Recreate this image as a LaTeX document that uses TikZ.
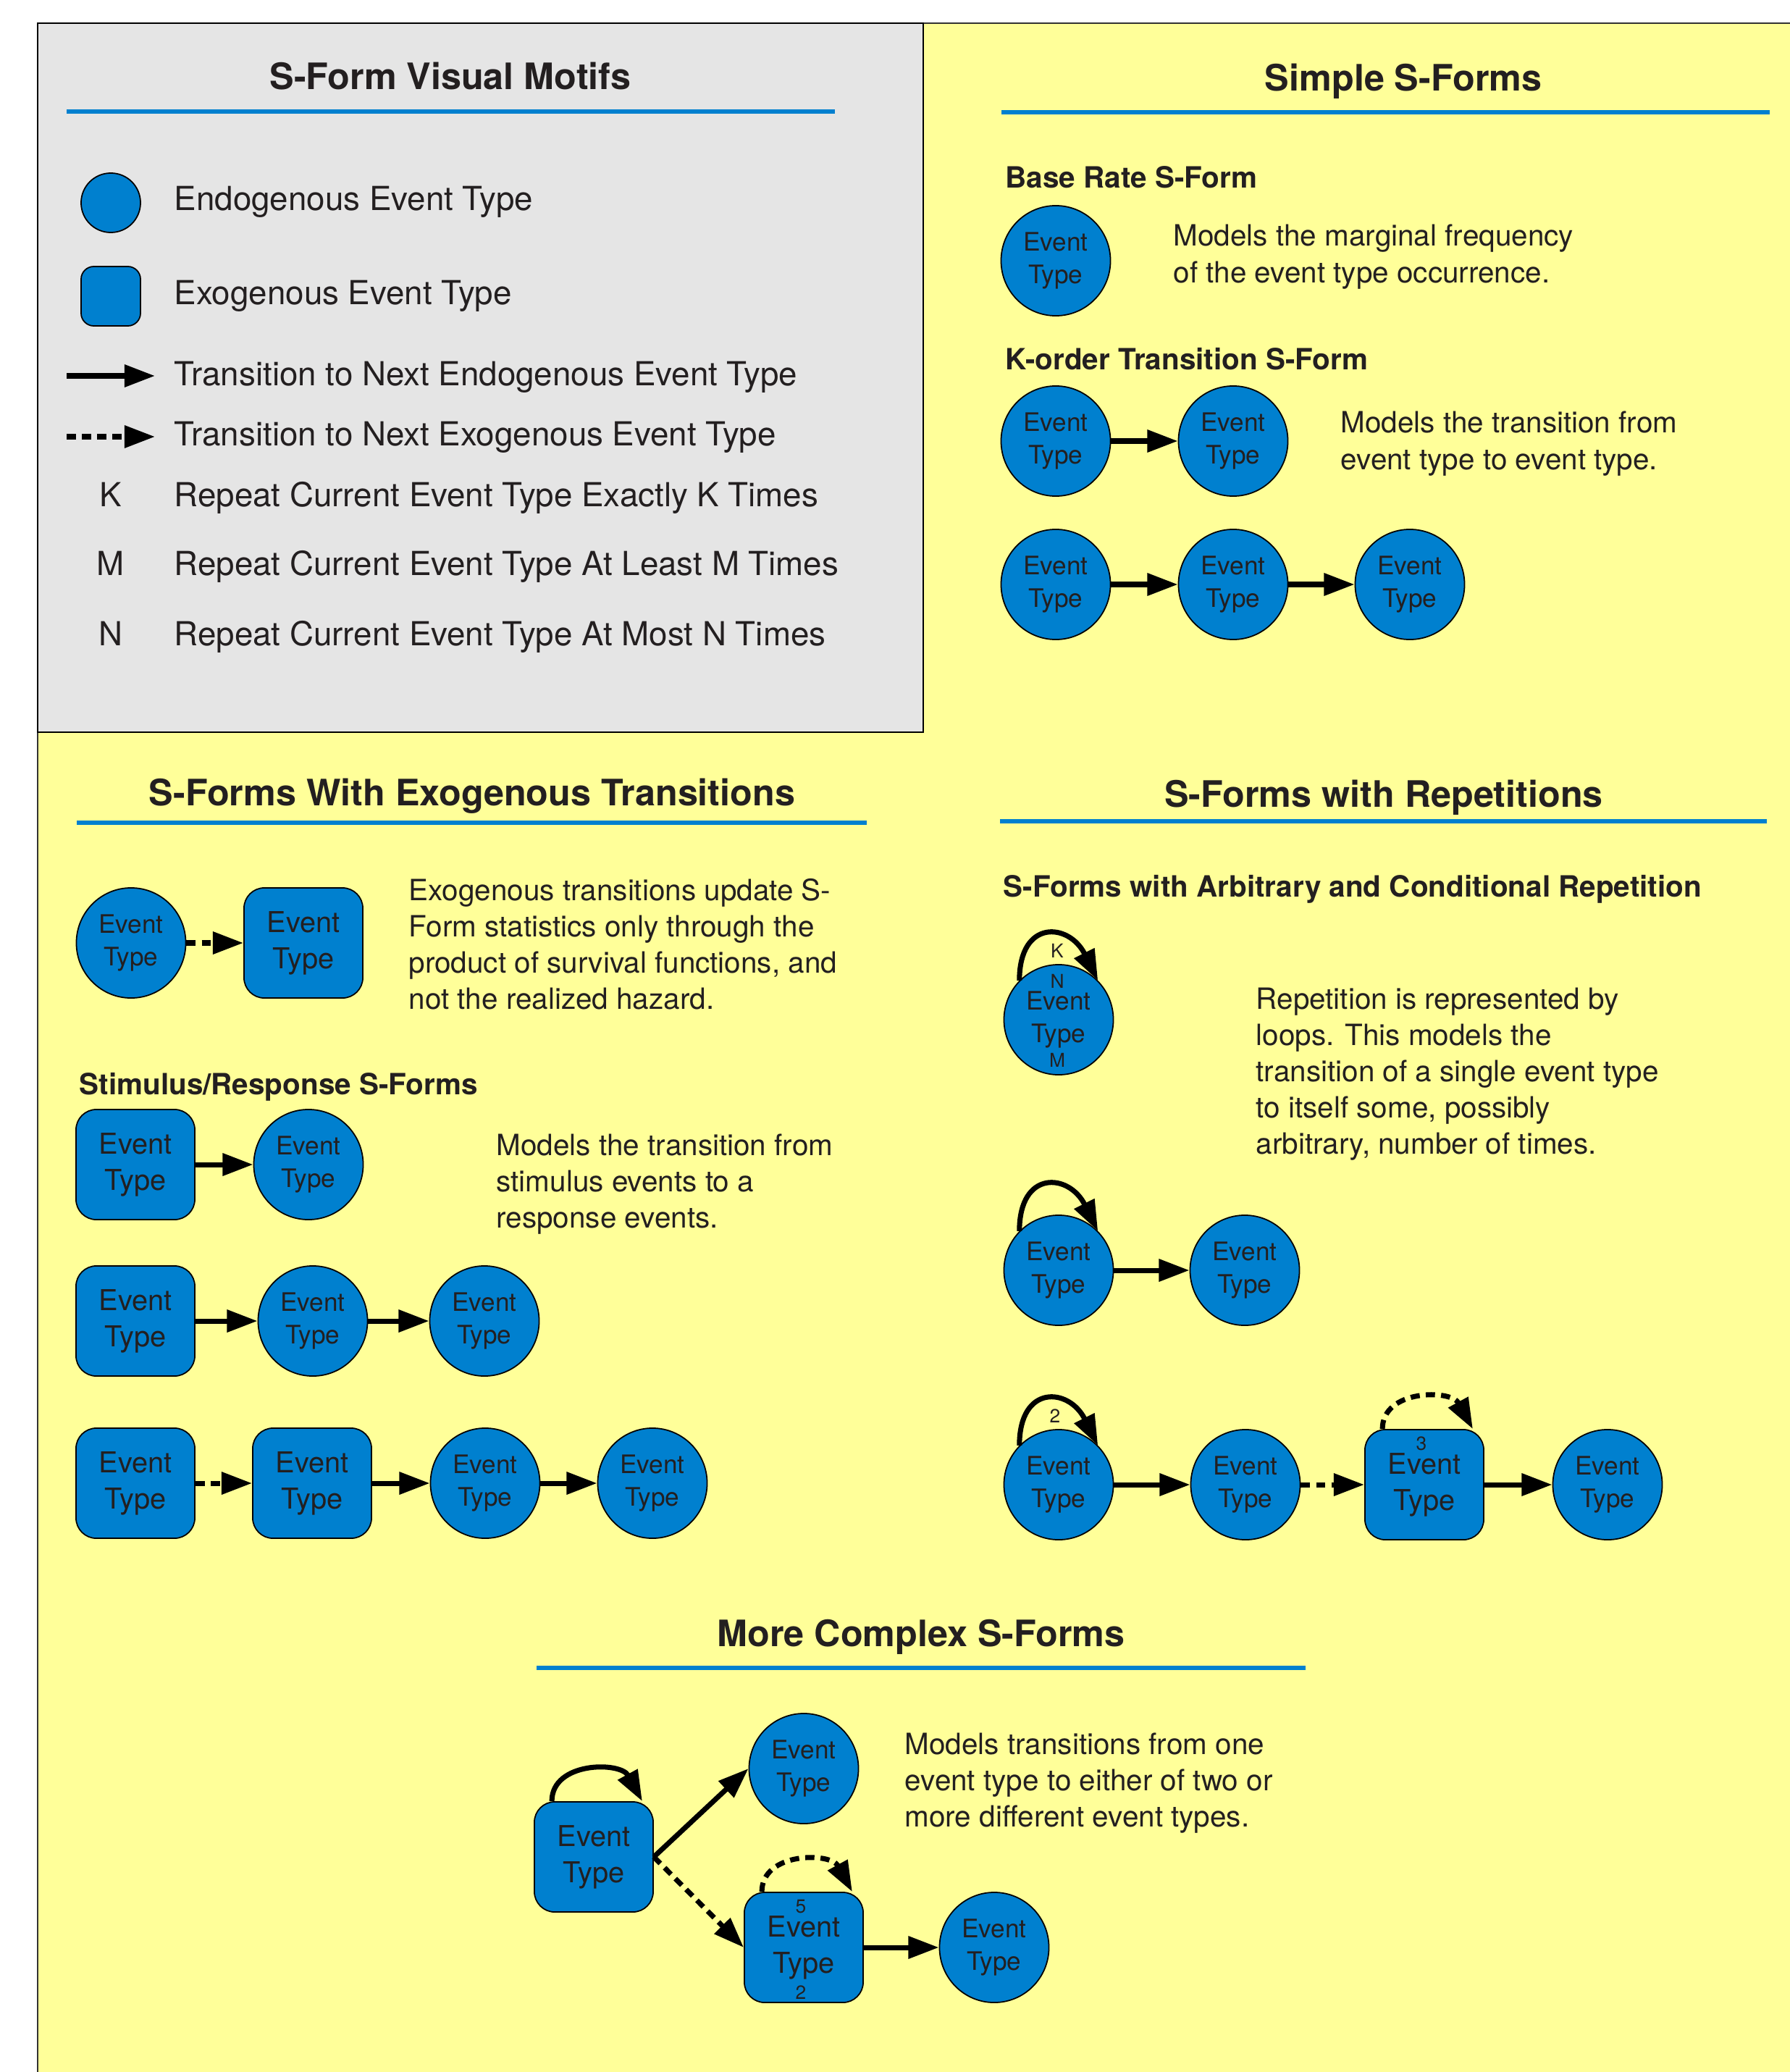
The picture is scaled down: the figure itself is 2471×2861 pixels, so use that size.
\documentclass[tikz,border=0pt]{standalone}
\usepackage{fontspec}
\setmainfont{TeX Gyre Heros}
\usepackage{xcolor}
\definecolor{sfxanh}{HTML}{0080CF}
\definecolor{sfvang}{HTML}{FFFF99}
\definecolor{sfxam}{HTML}{E5E5E5}
\definecolor{sfden}{HTML}{231F20}
\def\mycolor{sfxanh}
\def\maunen{sfvang}
\def\mauhop{sfxam}
\def\mauchu{sfden}
\usepackage{tikz}
\usetikzlibrary{shapes.geometric,arrows.meta,positioning}

\begin{document}
\begin{tikzpicture}[x=0.01cm,y=-0.01cm,text=\mauchu,font=\fontsize{11.5}{14}\selectfont,
	endo/.style={ellipse,draw=black,line width=0.5pt,fill=\mycolor,minimum width=1.51cm,minimum height=1.52cm,inner sep=0pt,align=center,font=\fontsize{10}{12.8}\selectfont},
	exo/.style={rectangle,rounded corners=8pt,draw=black,line width=0.5pt,fill=\mycolor,minimum width=1.64cm,minimum height=1.52cm,inner sep=0pt,align=center,font=\fontsize{11.3}{14.2}\selectfont},
	trans/.style={-{Triangle[length=12pt,width=8.5pt]},line width=2pt,draw=black},
	exotrans/.style={trans,dash pattern=on 3.6pt off 2.4pt},
	tieude/.style={anchor=base,inner sep=0pt,font=\fontsize{14.3}{17}\selectfont\bfseries},
	tieudephu/.style={anchor=base west,inner sep=0pt,font=\fontsize{11.5}{14}\selectfont\bfseries},
	mota/.style={anchor=base west,inner sep=0pt},
	chuhop/.style={mota,font=\fontsize{13}{15}\selectfont},
	nhan/.style={inner sep=0pt,font=\fontsize{7.5}{9}\selectfont},
	gach/.style={draw=\mycolor,line width=1.8pt}]
	\useasboundingbox (0,0) rectangle (2471,2861);
	%%%Nen vang va hop xam
	\fill[\maunen] (52,32) rectangle (2480,2870);
	\draw[black!80,line width=0.8pt] (2480,32) -- (52,32) -- (52,2870);
	\draw[fill=\mauhop,line width=0.8pt] (52,32) rectangle (1275,1011);
	
	%%%Hop chu giai
	\node[tieude] (td-motif) at (622,124) {S-Form Visual Motifs};
	\draw[gach] (92,154) -- (1153,154);
	\node[circle,draw=black,line width=0.5pt,fill=\mycolor,minimum size=0.82cm,inner sep=0pt] (leg-endo) at (153,280) {};
	\node[rectangle,rounded corners=5pt,draw=black,line width=0.5pt,fill=\mycolor,minimum size=0.82cm,inner sep=0pt] (leg-exo) at (153,409) {};
	\coordinate (leg-a1) at (92,519);
	\coordinate (leg-b1) at (214,519);
	\coordinate (leg-a2) at (92,603);
	\coordinate (leg-b2) at (214,603);
	\draw[trans] (leg-a1) -- (leg-b1);
	\draw[exotrans] (leg-a2) -- (leg-b2);
	\foreach [count=\i] \y/\k in {699/K,794/M,891/N}{%
		\node[chuhop,anchor=base] (leg-k\i) at (153,\y) {\k};
	}
	\foreach [count=\i] \y/\t in {%
		291/Endogenous Event Type,
		420/Exogenous Event Type,
		532/Transition to Next Endogenous Event Type,
		615/Transition to Next Exogenous Event Type,
		699/Repeat Current Event Type Exactly K Times,
		794/Repeat Current Event Type At Least M Times,
		891/Repeat Current Event Type At Most N Times}{%
		\node[chuhop] (leg-t\i) at (240,\y) {\t};
	}
	
	%%%Simple S-Forms
	\node[tieude] (td-simple) at (1938,126) {Simple S-Forms};
	\draw[gach] (1383,155) -- (2444,155);
	\node[tieudephu] (st-base) at (1388,260) {Base Rate S-Form};
	\node[endo] (br1) at (1458,360) {Event\\Type};
	\foreach [count=\i from 0] \dong in {Models the marginal frequency,of the event type occurrence.}{%
		\node[mota] (mt-br\i) at (1620,340+51*\i) {\dong};
	}
	\node[tieudephu] (st-korder) at (1388,510) {K-order Transition S-Form};
	\node[endo] (ko1) at (1458,609) {Event\\Type};
	\node[endo] (ko2) at (1703,609) {Event\\Type};
	\draw[trans] (ko1) -- (ko2);
	\foreach [count=\i from 0] \dong in {Models the transition from,event type to event type.}{%
		\node[mota] (mt-ko\i) at (1851,597+51*\i) {\dong};
	}
	\node[endo] (kt1) at (1458,807) {Event\\Type};
	\node[endo] (kt2) at (1703,807) {Event\\Type};
	\node[endo] (kt3) at (1947,807) {Event\\Type};
	\draw[trans] (kt1) -- (kt2);
	\draw[trans] (kt2) -- (kt3);
	
	%%%S-Forms With Exogenous Transitions
	\node[tieude] (td-exo) at (652,1112) {S-Forms With Exogenous Transitions};
	\draw[gach] (106,1136) -- (1197,1136);
	\node[endo] (ex1) at (181,1302) {Event\\Type};
	\node[exo] (ex2) at (419,1302) {Event\\Type};
	\draw[exotrans] (ex1) -- (ex2);
	\foreach [count=\i from 0] \dong in {Exogenous transitions update S-,Form statistics only through the,{product of survival functions, and},not the realized hazard.}{%
		\node[mota] (mt-ex\i) at (564,1243+50*\i) {\dong};
	}
	\node[tieudephu] (st-stim) at (109,1511) {Stimulus/Response S-Forms};
	\node[exo] (sr1) at (187,1608) {Event\\Type};
	\node[endo] (sr2) at (426,1608) {Event\\Type};
	\draw[trans] (sr1) -- (sr2);
	\foreach [count=\i from 0] \dong in {Models the transition from,stimulus events to a,response events.}{%
		\node[mota] (mt-sr\i) at (685,1595+50*\i) {\dong};
	}
	\node[exo] (sr3) at (187,1824) {Event\\Type};
	\node[endo] (sr4) at (432,1824) {Event\\Type};
	\node[endo] (sr5) at (669,1824) {Event\\Type};
	\draw[trans] (sr3) -- (sr4);
	\draw[trans] (sr4) -- (sr5);
	\node[exo] (sr6) at (187,2048) {Event\\Type};
	\node[exo] (sr7) at (431,2048) {Event\\Type};
	\node[endo] (sr8) at (670,2048) {Event\\Type};
	\node[endo] (sr9) at (901,2048) {Event\\Type};
	\draw[exotrans] (sr6) -- (sr7);
	\draw[trans] (sr7) -- (sr8);
	\draw[trans] (sr8) -- (sr9);
	
	%%%S-Forms with Repetitions
	\node[tieude] (td-rep) at (1911,1114) {S-Forms with Repetitions};
	\draw[gach] (1381,1134) -- (2440,1134);
	\node[tieudephu] (st-rep) at (1385,1238) {S-Forms with Arbitrary and Conditional Repetition};
	\node[endo] (rp1) at (1462,1408) {Event\\Type};
	\draw[trans] (rp1.135) .. controls +(0,-85) and +(-40,-80) .. (rp1.45);
	\node[nhan] (rp1-k) at (1460,1313) {K};
	\node[nhan] (rp1-n) at (1460,1355) {N};
	\node[nhan] (rp1-m) at (1460,1464) {M};
	\foreach [count=\i from 0] \dong in {Repetition is represented by,loops. This models the,transition of a single event type,{to itself some, possibly},{arbitrary, number of times.}}{%
		\node[mota] (mt-rp\i) at (1734,1393+50*\i) {\dong};
	}
	\node[endo] (rp2) at (1462,1754) {Event\\Type};
	\node[endo] (rp3) at (1719,1754) {Event\\Type};
	\draw[trans] (rp2.135) .. controls +(0,-85) and +(-40,-80) .. (rp2.45);
	\draw[trans] (rp2) -- (rp3);
	\node[endo] (rp4) at (1462,2050) {Event\\Type};
	\node[endo] (rp5) at (1720,2050) {Event\\Type};
	\node[exo] (rp6) at (1967,2050) {Event\\Type};
	\node[endo] (rp7) at (2220,2050) {Event\\Type};
	\draw[trans] (rp4.135) .. controls +(0,-85) and +(-40,-80) .. (rp4.45);
	\draw[exotrans] ([xshift=0.25cm]rp6.north west) .. controls +(0,-55) and +(-30,-55) .. ([xshift=-0.16cm]rp6.north east);
	\node[nhan] (rp4-k) at (1457,1955) {2};
	\node[nhan] (rp6-k) at (1963,1993) {3};
	\draw[trans] (rp4) -- (rp5);
	\draw[exotrans] (rp5) -- (rp6);
	\draw[trans] (rp6) -- (rp7);
	
	%%%More Complex S-Forms
	\node[tieude] (td-complex) at (1272,2273) {More Complex S-Forms};
	\draw[gach] (741,2303) -- (1803,2303);
	\node[exo] (cx1) at (820,2564) {Event\\Type};
	\node[endo] (cx2) at (1110,2442) {Event\\Type};
	\node[exo] (cx3) at (1110,2689) {Event\\Type};
	\node[endo] (cx4) at (1373,2689) {Event\\Type};
	\draw[trans] ([xshift=0.25cm]cx1.north west) .. controls +(0,-55) and +(-30,-55) .. ([xshift=-0.16cm]cx1.north east);
	\draw[exotrans] ([xshift=0.25cm]cx3.north west) .. controls +(0,-55) and +(-30,-55) .. ([xshift=-0.16cm]cx3.north east);
	\node[nhan] (cx3-k) at (1106,2633) {5};
	\node[nhan] (cx3-m) at (1106,2751) {2};
	\draw[trans] (cx1.east) -- (cx2.west);
	\draw[exotrans] (cx1.east) -- (cx3.west);
	\draw[trans] (cx3) -- (cx4);
	\foreach [count=\i from 0] \dong in {Models transitions from one,event type to either of two or,more different event types.}{%
		\node[mota] (mt-cx\i) at (1249,2422+50*\i) {\dong};
	}
\end{tikzpicture}
\end{document}
